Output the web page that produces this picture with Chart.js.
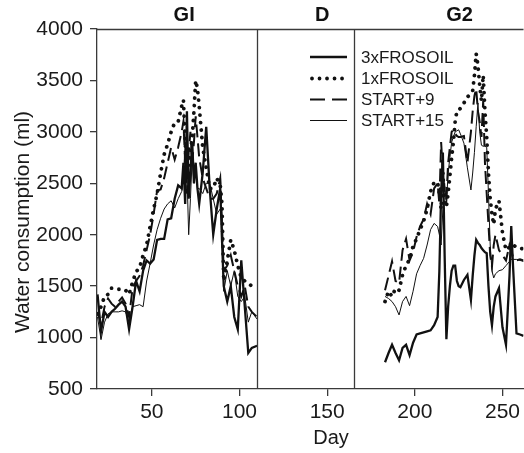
<!DOCTYPE html>
<html>
<head>
<meta charset="utf-8">
<script src="https://cdn.jsdelivr.net/npm/chart.js@4.4.1/dist/chart.umd.min.js"></script>
<style>
  html, body { margin: 0; padding: 0; background: #fff; }
</style>
</head>
<body>
<canvas id="chart" width="524" height="453"></canvas>
<script>
// days of measurement in the two growing periods
const daysG1 = [19, 21, 23, 25, 27, 29, 31, 33, 35, 37, 39, 41, 43, 45, 47, 49, 51, 53, 55, 57, 59, 61, 63, 65, 67, 68, 69, 70, 71, 72, 73, 74, 75, 76, 77, 79, 81, 83, 85, 87, 89, 90, 91, 93, 95, 97, 99, 101, 103, 105, 107, 110];
const daysG2 = [183, 185, 187, 189, 191, 193, 195, 197, 199, 201, 203, 205, 207, 209, 211, 213, 214, 215, 216, 217, 218, 219, 220, 221, 222, 223, 224, 225, 226, 228, 230, 232, 233, 234, 235, 236, 237, 238, 239, 240, 241, 242, 243, 244, 245, 246, 248, 250, 252, 254, 255, 256, 258, 260, 262];

// water consumption (ml)
const frosoil3G1 = [1420, 1060, 1250, 1200, 1250, 1280, 1320, 1350, 1300, 1080, 1300, 1550, 1450, 1650, 1750, 1720, 1760, 1950, 1960, 1960, 2150, 2160, 2350, 2480, 2450, 2700, 2300, 3200, 2350, 2600, 2900, 2500, 2700, 2450, 2300, 2600, 3050, 2450, 2000, 2250, 2450, 1950, 1500, 1350, 1500, 1200, 1080, 1750, 1300, 850, 900, 920];
const frosoil1G1 = [1230, 1300, 1400, 1420, 1480, 1480, 1470, 1470, 1460, 1420, 1540, 1640, 1680, 1800, 1900, 2080, 2250, 2400, 2600, 2780, 2880, 3000, 3090, 3100, 3250, 3310, 2900, 2550, 2700, 2800, 2950, 3200, 3500, 3420, 3250, 2850, 2650, 2450, 2450, 2550, 2480, 2300, 1550, 1750, 1950, 1850, 1700, 1580, 1550, 1530, 1500, 1500];
const start9G1 = [1250, 1130, 1300, 1380, 1330, 1300, 1350, 1390, 1330, 1200, 1480, 1550, 1600, 1700, 1850, 2000, 2200, 2430, 2440, 2550, 2700, 2850, 2730, 2850, 3000, 3100, 2700, 2400, 2800, 3000, 2700, 2900, 3150, 2950, 2750, 2550, 2450, 2350, 2350, 2400, 2550, 2100, 1650, 1700, 1800, 1650, 1500, 1400, 1500, 1300, 1250, 1200];
const start15G1 = [1200, 980, 1150, 1230, 1250, 1250, 1250, 1260, 1250, 1150, 1300, 1310, 1320, 1300, 1550, 1720, 1900, 2050, 2160, 2250, 2300, 2330, 2260, 2350, 2420, 2550, 2900, 2600, 2000, 2350, 2750, 2500, 2650, 2450, 2450, 2400, 2500, 2500, 2350, 2200, 2250, 2150, 1450, 1650, 1500, 1650, 1400, 1350, 1400, 1150, 1250, 1180];

const frosoil3G2 = [760, 850, 930, 850, 780, 900, 930, 830, 950, 1030, 1040, 1050, 1060, 1070, 1120, 1200, 1650, 2400, 2800, 1800, 985, 1300, 1500, 1650, 1700, 1700, 1550, 1500, 1490, 1560, 1610, 1366, 1600, 1800, 1950, 1920, 1900, 1870, 1850, 1830, 1820, 1500, 1250, 1120, 1300, 1400, 1480, 1100, 930, 1600, 2085, 1700, 1040, 1030, 1016];
const frosoil1G2 = [1350, 1450, 1400, 1480, 1460, 1610, 1700, 1760, 1890, 1960, 2050, 2130, 2250, 2420, 2510, 2510, 2400, 2250, 2600, 2300, 2270, 2400, 2570, 2750, 2900, 3100, 3200, 3210, 3230, 3280, 3340, 3370, 3400, 3550, 3760, 3650, 3450, 3300, 3550, 3200, 2950, 2600, 2350, 2200, 2100, 2250, 2330, 2020, 1850, 1880, 1900, 1900, 1880, 1870, 1860];
const start9G2 = [1460, 1600, 1740, 1550, 1530, 1850, 1960, 1750, 1830, 1980, 2080, 2150, 2300, 2200, 2450, 2500, 2300, 2900, 2600, 2400, 2350, 2700, 2850, 3000, 3020, 2980, 2960, 2950, 2950, 2960, 2700, 3000, 3200, 3350, 3420, 3200, 3100, 2950, 3300, 2700, 2400, 2100, 1800, 1690, 1900, 2000, 1850, 1800, 1750, 1900, 1850, 1780, 1750, 1760, 1750];
const start15G2 = [1400, 1380, 1350, 1300, 1220, 1350, 1400, 1310, 1450, 1620, 1700, 1770, 1900, 2050, 2110, 2080, 2000, 1900, 2250, 2500, 2300, 2600, 2750, 2900, 2950, 3000, 3010, 3020, 2980, 2890, 2650, 2435, 2600, 2800, 3050, 3280, 3000, 2870, 2860, 2860, 2850, 2400, 1900, 1650, 1580, 1620, 1650, 1660, 1700, 1740, 1760, 1760, 1760, 1750, 1740];

const seriesNames = ['3xFROSOIL', '1xFROSOIL', 'START+9', 'START+15'];
const yTicks = [500, 1000, 1500, 2000, 2500, 3000, 3500, 4000];
const xTicks = [50, 100, 150, 200, 250];
const periodNames = ['GI', 'D', 'G2'];
const periodBounds = [110, 165.5];   // day where GI ends and G2 begins

const FONT = '"Liberation Sans", Arial, sans-serif';
const INK = '#111';
const AXIS = '#3a3a3a';

// one line per treatment, with a gap between the two periods
function toPoints(g1, g2) {
    const pts = daysG1.map((d, i) => ({ x: d, y: g1[i] }));
    pts.push({ x: 140, y: null });
    daysG2.forEach((d, i) => pts.push({ x: d, y: g2[i] }));
    return pts;
}

const lineStyles = [
    { borderWidth: 2.3, borderDash: [], borderCapStyle: 'butt' },
    { borderWidth: 3.8, borderDash: [0.01, 7.5], borderCapStyle: 'round' },
    { borderWidth: 2, borderDash: [13, 6], borderCapStyle: 'butt' },
    { borderWidth: 1, borderDash: [], borderCapStyle: 'butt' }
];

const seriesData = [
    toPoints(frosoil3G1, frosoil3G2),
    toPoints(frosoil1G1, frosoil1G2),
    toPoints(start9G1, start9G2),
    toPoints(start15G1, start15G2)
];

const datasets = seriesNames.map((name, i) => ({
    label: name,
    data: seriesData[i],
    borderColor: INK,
    backgroundColor: INK,
    pointRadius: 0,
    tension: 0,
    fill: false,
    spanGaps: false,
    borderJoinStyle: 'miter',
    ...lineStyles[i]
}));

// boundaries, top frame, period names, legend and axis titles
const overlay = {
    id: 'overlay',
    afterDatasetsDraw(chart) {
        const { ctx, chartArea: a, scales: { x, y } } = chart;
        ctx.save();

        ctx.strokeStyle = AXIS;
        ctx.lineWidth = 1.3;
        ctx.beginPath();
        ctx.moveTo(a.left, a.top + 0.5);
        ctx.lineTo(a.right, a.top + 0.5);
        periodBounds.forEach(d => {
            const px = Math.round(x.getPixelForValue(d)) + 0.5;
            ctx.moveTo(px, a.top);
            ctx.lineTo(px, a.bottom);
        });
        ctx.stroke();

        // period names over the plot
        ctx.fillStyle = '#111';
        ctx.font = 'bold 20px ' + FONT;
        ctx.textAlign = 'center';
        ctx.textBaseline = 'middle';
        const centers = [68.4, 147.2, 225.5];
        periodNames.forEach((t, i) => {
            ctx.fillText(t, x.getPixelForValue(centers[i]), 15);
        });

        // legend
        ctx.font = '17px ' + FONT;
        ctx.textAlign = 'left';
        const rows = [58, 79.5, 100.5, 121.5];
        chart.data.datasets.forEach((ds, i) => {
            const ly = rows[i];
            ctx.save();
            ctx.strokeStyle = INK;
            ctx.lineWidth = ds.borderWidth;
            ctx.lineCap = ds.borderCapStyle;
            ctx.setLineDash(i === 2 ? [15, 7] : ds.borderDash);
            ctx.beginPath();
            ctx.moveTo(i === 1 ? 312 : 310, ly - 1);
            ctx.lineTo(347, ly - 1);
            ctx.stroke();
            ctx.restore();
            ctx.fillStyle = '#1a1a1a';
            ctx.fillText(ds.label, 361, ly);
        });

        // axis titles
        ctx.font = '20px ' + FONT;
        ctx.textAlign = 'center';
        ctx.fillText('Day', 331, 438);
        ctx.translate(23, 222);
        ctx.rotate(-Math.PI / 2);
        ctx.font = '21px ' + FONT;
        ctx.fillText('Water consumption (ml)', 0, 0);

        ctx.restore();
    }
};

new Chart(document.getElementById('chart'), {
    type: 'line',
    data: { datasets },
    options: {
        responsive: false,
        animation: false,
        devicePixelRatio: 1,
        layout: { padding: { top: 29, right: 0, left: 0, bottom: 0 } },
        plugins: {
            legend: { display: false },
            tooltip: { enabled: false }
        },
        scales: {
            x: {
                type: 'linear',
                min: 18.7,
                max: 262,
                afterFit(scale) { scale.height = 64; },
                afterBuildTicks(scale) { scale.ticks = xTicks.map(v => ({ value: v })); },
                grid: { display: true, drawOnChartArea: false, drawTicks: true, tickLength: 7, color: AXIS, lineWidth: 1.3 },
                border: { display: true, color: AXIS, width: 1.3 },
                ticks: { color: '#1a1a1a', padding: 4, maxRotation: 0, callback: v => String(v), font: { family: FONT, size: 21 } }
            },
            y: {
                type: 'linear',
                min: 500,
                max: 4000,
                afterFit(scale) { scale.width = 97; },
                afterBuildTicks(scale) { scale.ticks = yTicks.map(v => ({ value: v })); },
                grid: { display: true, drawOnChartArea: false, drawTicks: true, tickLength: 7, color: AXIS, lineWidth: 1.3 },
                border: { display: true, color: AXIS, width: 1.3 },
                ticks: { color: '#1a1a1a', padding: 7, callback: v => String(v), font: { family: FONT, size: 21 } }
            }
        }
    },
    plugins: [overlay]
});
</script>
</body>
</html>
